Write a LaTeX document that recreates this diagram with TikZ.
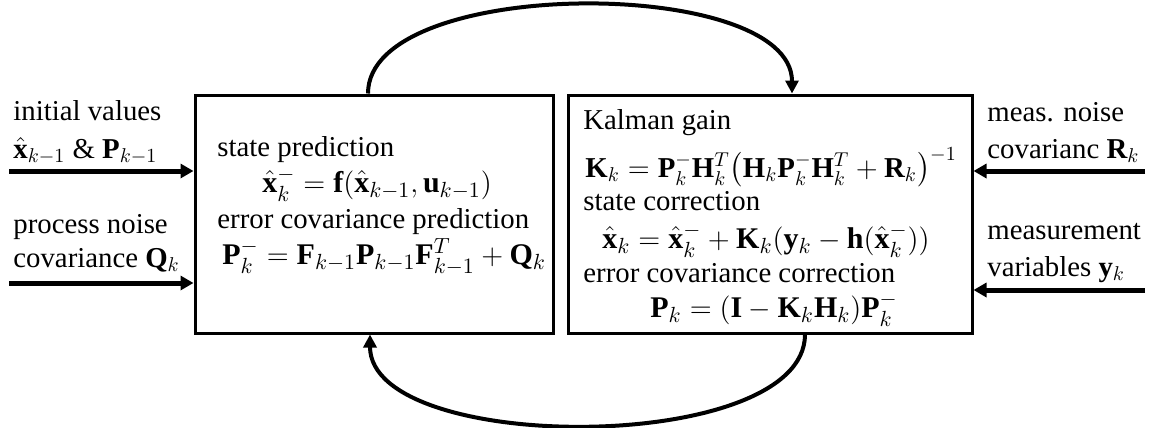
\documentclass[tikz,border=0pt]{standalone}
\usepackage{amsmath}
\usepackage{fontspec}
\setmainfont{Liberation Serif}
\usetikzlibrary{arrows.meta}

\begin{document}
\begin{tikzpicture}[x=0.5pt, y=-0.5pt, font=\fontsize{14.4}{17}\selectfont,
	blockbox/.style={draw, line width=1.5pt, inner sep=0pt},
	lbl/.style={anchor=base west, inner sep=0pt},
	eqn/.style={lbl, font=\fontsize{15}{17}\selectfont},
	flowarrow/.style={line width=2.5pt, -{Triangle[length=6.5pt, width=7pt]}},
	looparrow/.style={line width=2pt, -{Triangle[length=6.5pt, width=6.5pt]}}]
	\useasboundingbox (0,0) rectangle (1151,428);
	\node[blockbox, minimum width=179pt, minimum height=119pt] (pred) at (374,214){};
	\node[blockbox, minimum width=202pt, minimum height=119pt] (corr) at (770,214){};
	\node[lbl] (initlbl) at (13,120){initial values};
	\node[lbl] (initval) at (13,158){$\hat{\mathbf{x}}_{k-1}$ \& $\mathbf{P}_{k-1}$};
	\node[lbl] (proclbl) at (13,233){process noise};
	\node[lbl] (procval) at (13,267){covariance $\mathbf{Q}_k$};
	\node[lbl] (measlbl) at (987,121){meas. noise};
	\node[lbl] (measval) at (987,158){covarianc $\mathbf{R}_k$};
	\node[lbl] (varlbl) at (987,239){measurement};
	\node[lbl] (varval) at (987,276){variables $\mathbf{y}_k$};
	\node[lbl] (predlbl) at (217,156){state prediction};
	\node[eqn] (prededq) at (262,192){$\hat{\mathbf{x}}_k^- = \mathbf{f}(\hat{\mathbf{x}}_{k-1}, \mathbf{u}_{k-1})$};
	\node[lbl] (covlbl) at (217,228){error covariance prediction};
	\node[eqn] (coveq) at (222,264){$\mathbf{P}_k^- = \mathbf{F}_{k-1}\mathbf{P}_{k-1}\mathbf{F}_{k-1}^T + \mathbf{Q}_k$};
	\node[lbl] (gainlbl) at (583,129){Kalman gain};
	\node[eqn, font=\fontsize{14.4}{17}\selectfont] (gaineq) at (585,177){$\mathbf{K}_k = \mathbf{P}_k^-\mathbf{H}_k^T\bigl(\mathbf{H}_k\mathbf{P}_k^-\mathbf{H}_k^T + \mathbf{R}_k\bigr)^{-1}$};
	\node[lbl] (corrlbl) at (583,210){state correction};
	\node[eqn] (correq) at (602,248){$\hat{\mathbf{x}}_k = \hat{\mathbf{x}}_k^- + \mathbf{K}_k(\mathbf{y}_k - \mathbf{h}(\hat{\mathbf{x}}_k^-))$};
	\node[lbl] (ccovlbl) at (583,282){error covariance correction};
	\node[eqn] (ccoveq) at (650,317){$\mathbf{P}_k = (\mathbf{I} - \mathbf{K}_k\mathbf{H}_k)\mathbf{P}_k^-$};
	\coordinate (in1) at (9,171);
	\coordinate (in2) at (9,283);
	\coordinate (in3) at (1145,171);
	\coordinate (in4) at (1145,290);
	\draw[flowarrow] (in1) -- (in1 -| pred.west);
	\draw[flowarrow] (in2) -- (in2 -| pred.west);
	\draw[flowarrow] (in3) -- (in3 -| corr.east);
	\draw[flowarrow] (in4) -- (in4 -| corr.east);
	\draw[looparrow] ([xshift=-3pt]pred.north) .. controls +(0,-118) and +(0,-118) .. ([xshift=11pt]corr.north);
	\draw[looparrow] ([xshift=17.5pt]corr.south) .. controls +(0,121) and +(0,121) .. ([xshift=-2pt]pred.south);
\end{tikzpicture}
\end{document}
